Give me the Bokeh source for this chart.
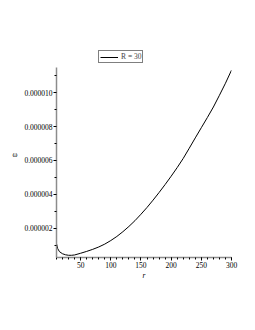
from bokeh.plotting import figure
from bokeh.models import Range1d, FixedTicker, PrintfTickFormatter, Legend, LegendItem
from bokeh.embed import file_html
from bokeh.resources import INLINE

r_values = [10, 12, 15, 20, 25, 30, 35, 40, 50, 60, 70, 80, 90, 100, 110, 120, 130, 140,
            150, 160, 170, 180, 190, 200, 210, 220, 230, 240, 250, 260, 270, 280, 290, 300]
omega_values = [1.10e-6, 0.80e-6, 0.62e-6, 0.50e-6, 0.44e-6, 0.41e-6, 0.41e-6, 0.43e-6,
                0.53e-6, 0.64e-6, 0.76e-6, 0.90e-6, 1.07e-6, 1.28e-6, 1.52e-6, 1.80e-6,
                2.11e-6, 2.45e-6, 2.83e-6, 3.23e-6, 3.66e-6, 4.11e-6, 4.58e-6, 5.07e-6,
                5.58e-6, 6.12e-6, 6.72e-6, 7.33e-6, 7.93e-6, 8.53e-6, 9.15e-6, 9.84e-6,
                10.55e-6, 11.32e-6]
x_ticks = [50, 100, 150, 200, 250, 300]
x_minor = list(range(10, 301, 10))
y_ticks = [2e-6, 4e-6, 6e-6, 8e-6, 10e-6]
y_minor = [1e-6, 3e-6, 5e-6, 7e-6, 9e-6, 11e-6]
y_min, y_max = 0.28e-6, 11.47e-6
legend_label = "R = 30"

FONT = "Liberation Serif"

p = figure(width=247, height=310, output_backend="svg", toolbar_location=None,
           x_range=Range1d(10, 300), y_range=Range1d(y_min, 12.48e-6),
           min_border_left=56, min_border_right=16, min_border_top=50, min_border_bottom=53)
p.outline_line_color = None
p.grid.visible = False
p.background_fill_color = "white"

line = p.line(r_values, omega_values, line_color="black", line_width=1)

for ax in (p.xaxis[0], p.yaxis[0]):
    ax.axis_line_color = "#8c8c8c"
    ax.axis_line_width = 1.5
    ax.major_tick_line_color = "black"
    ax.minor_tick_line_color = "black"
    ax.major_tick_out = 3
    ax.major_tick_in = 0
    ax.minor_tick_out = 2
    ax.minor_tick_in = 0
    ax.major_label_text_font = FONT
    ax.major_label_text_font_size = "7.5px"
    ax.major_label_text_color = "black"
    ax.axis_label_text_font = FONT
    ax.axis_label_text_font_size = "7.5px"
    ax.axis_label_text_color = "black"

p.xaxis[0].ticker = FixedTicker(ticks=x_ticks, minor_ticks=x_minor)
p.xaxis[0].major_label_standoff = 1
p.xaxis[0].axis_label = "r"
p.xaxis[0].axis_label_text_font_style = "italic"
p.xaxis[0].axis_label_standoff = 0

p.yaxis[0].ticker = FixedTicker(ticks=y_ticks, minor_ticks=y_minor)
p.yaxis[0].bounds = (y_min, y_max)
p.yaxis[0].formatter = PrintfTickFormatter(format="%.6f")
p.yaxis[0].major_label_standoff = 1
p.yaxis[0].axis_label = "ω"
p.yaxis[0].axis_label_orientation = "horizontal"
p.yaxis[0].axis_label_text_font_style = "normal"
p.yaxis[0].axis_label_standoff = 4

legend = Legend(items=[LegendItem(label=legend_label, renderers=[line])],
                location=(42, 194), border_line_color="black", border_line_width=1,
                padding=1, margin=0, spacing=0, glyph_width=18, glyph_height=8,
                label_height=8, label_standoff=3,
                label_text_font=FONT, label_text_font_size="7.5px",
                background_fill_alpha=1.0)
p.add_layout(legend, "center")

open("out.html", "w").write(file_html(p, INLINE))
